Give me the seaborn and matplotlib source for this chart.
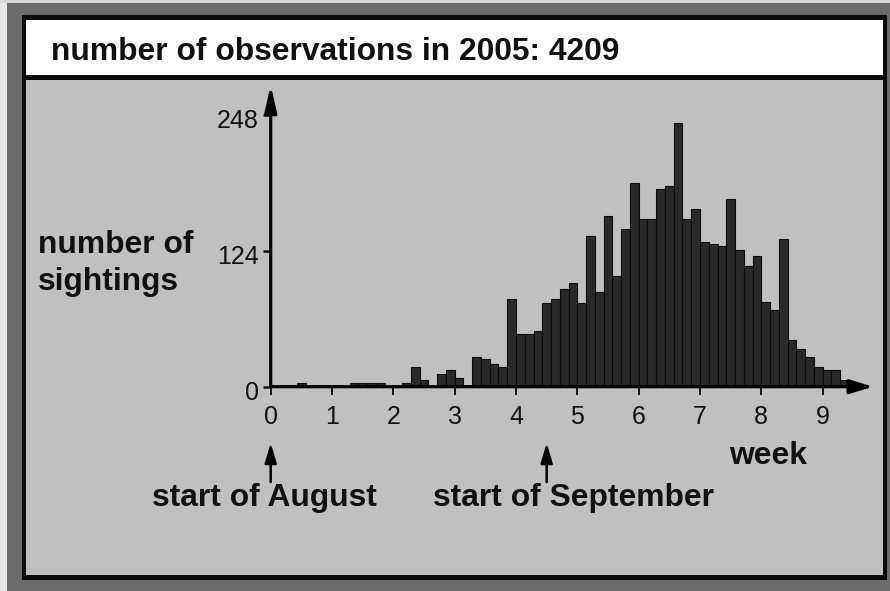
import numpy as np
import pandas as pd
import matplotlib
matplotlib.use("Agg")
import matplotlib.pyplot as plt
from matplotlib.patches import Rectangle
from matplotlib.transforms import ScaledTranslation
import seaborn as sns

# ---------------- data ----------------
title_text = "number of observations in 2005: 4209"
# number of sightings per day, day 0 = 1 August
daily_sightings = [0, 0, 0, 3, 0, 0, 0, 0, 0, 3, 3, 3, 3, 0, 0, 3, 18, 6, 0, 12,
                   15, 8, 1, 27, 25, 21, 18, 80,
                   48, 48, 51, 76, 80, 89, 95, 76,
                   138, 86, 156, 101, 144, 186, 153, 153, 180, 183, 241,
                   153, 162, 132, 130, 128, 171, 125, 110, 119, 77, 70, 135,
                   43, 34, 27, 18, 15, 15, 6]
x_ticks = [0, 1, 2, 3, 4, 5, 6, 7, 8, 9]
y_ticks = [0, 124, 248]
mark_weeks = [0, 4.5]
mark_labels = ["start of August", "start of September"]
y_label_lines = ["number of", "sightings"]
x_label = "week"

# ---------------- layout helpers ----------------
W, H = 890, 591
DPI = 100
def fx(px):
    return px / W
def fy(py):
    return 1 - py / H

BOLD = dict(family="Liberation Sans", fontweight="bold", fontsize=22.9, color="#111111")

fig = plt.figure(figsize=(W / DPI, H / DPI), dpi=DPI)
fig.patch.set_facecolor("#6b6b6b")

def frect(x0, y0, x1, y1, color, z):
    fig.add_artist(Rectangle((fx(x0), fy(y1)), (x1 - x0) / W, (y1 - y0) / H,
                             transform=fig.transFigure, facecolor=color,
                             edgecolor="none", zorder=z))

frect(0, 0, 7, H, "#e8e8e8", -10)
frect(0, 0, W, 2.5, "#d8d8d8", -10)
frect(21.5, 15, 887, 579.5, "#0a0a0a", -9)
frect(26, 19.5, 883, 75, "#ffffff", -8)
frect(26, 80, 883, 575, "#c0c0c0", -8)

# ---------------- axes ----------------
px_per_week = 61.33
px_per_unit = 1.0956
x0_px, y0_px = 270.7, 386.7
xmax, ymax = 9.85, 280
ax = fig.add_axes([fx(x0_px), (H - y0_px) / H,
                   xmax * px_per_week / W, ymax * px_per_unit / H])
ax.patch.set_visible(False)

n_days = len(daily_sightings)
df = pd.DataFrame({"week": (np.arange(n_days) + 0.5) / 7,
                   "sightings": daily_sightings})
sns.histplot(data=df, x="week", weights="sightings", bins=n_days,
             binrange=(0, n_days / 7),
             color="#292929", edgecolor="#0c0c0c", linewidth=0.8, alpha=1,
             ax=ax, zorder=2)
ax.set_xlim(0, xmax)
ax.set_ylim(0, ymax)
ax.set_xlabel("")
ax.set_ylabel("")
for s in ax.spines.values():
    s.set_visible(False)

# axis lines with arrow heads
ax.annotate("", xy=(9.82, 0), xytext=(0, 0),
            arrowprops=dict(arrowstyle="-|>,head_length=14,head_width=4.3",
                            mutation_scale=1, lw=2.3, color="black",
                            shrinkA=0, shrinkB=0),
            annotation_clip=False, zorder=5)
ax.annotate("", xy=(0, 275), xytext=(0, 0),
            arrowprops=dict(arrowstyle="-|>,head_length=16,head_width=3.7",
                            mutation_scale=1, lw=2.3, color="black",
                            shrinkA=0, shrinkB=0),
            annotation_clip=False, zorder=5)

ax.set_xticks(x_ticks)
ax.set_xticklabels([str(t) for t in x_ticks])
ax.set_yticks(y_ticks)
ax.set_yticklabels([str(t) for t in y_ticks])
ax.tick_params(axis="x", direction="out", length=6, width=1.4, pad=7,
               labelsize=18, colors="#111111")
ax.tick_params(axis="y", direction="out", length=5.5, width=1.8, pad=3,
               labelsize=18, colors="#111111")
for lab in ax.get_xticklabels() + ax.get_yticklabels():
    lab.set_family("Liberation Sans")
for lab in ax.get_yticklabels():
    lab.set_transform(lab.get_transform() +
                      ScaledTranslation(0, -0.04, fig.dpi_scale_trans))

# month markers
for wk, lab in zip(mark_weeks, mark_labels):
    ax.annotate("", xy=(wk, fy(443)), xytext=(wk, fy(482)),
                xycoords=("data", "figure fraction"),
                textcoords=("data", "figure fraction"),
                arrowprops=dict(arrowstyle="-|>,head_length=12,head_width=3.6",
                                mutation_scale=1, lw=1.8, color="black",
                                shrinkA=0, shrinkB=0),
                annotation_clip=False)
fig.text(fx(152), fy(506), mark_labels[0], ha="left", va="baseline", **BOLD)
fig.text(fx(433), fy(506), mark_labels[1], ha="left", va="baseline", **BOLD)

# texts
fig.text(fx(50.7), fy(60), title_text, ha="left", va="baseline", **BOLD)
fig.text(fx(38), fy(253), y_label_lines[0], ha="left", va="baseline", **BOLD)
fig.text(fx(38), fy(290), y_label_lines[1], ha="left", va="baseline", **BOLD)
fig.text(fx(729), fy(464), x_label, ha="left", va="baseline", **BOLD)

fig.savefig("out.png", dpi=DPI, facecolor=fig.get_facecolor())
